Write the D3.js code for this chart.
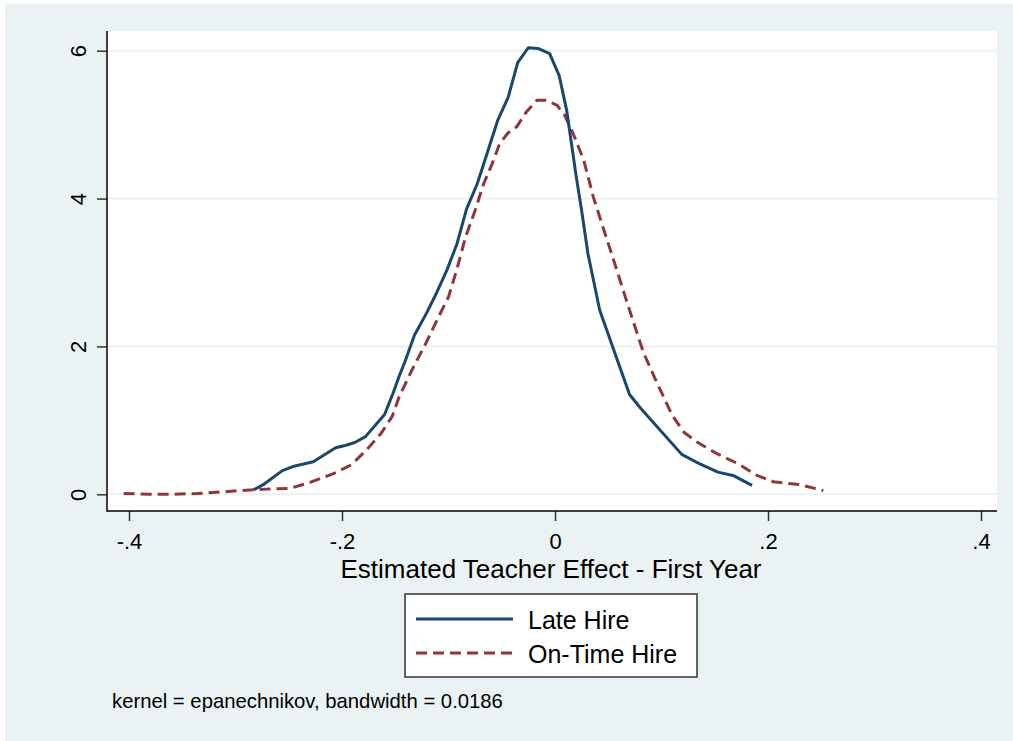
<!DOCTYPE html>
<html>
<head>
<meta charset="utf-8">
<script src="https://cdn.jsdelivr.net/npm/d3@7/dist/d3.min.js"></script>
<style>
  html, body { margin: 0; padding: 0; background: #ffffff; }
  svg { display: block; font-family: "Liberation Sans", Arial, sans-serif; }
</style>
</head>
<body>
<svg id="chart" width="1013" height="741"></svg>
<script>
// ---- data ----
const lateX = [-0.283,-0.274,-0.256,-0.245,-0.227,-0.206,-0.197,-0.188,-0.178,-0.160,-0.152,-0.146,-0.141,-0.132,-0.121,-0.111,-0.101,-0.092,-0.083,-0.073,-0.064,-0.054,-0.044,-0.035,-0.025,-0.016,-0.005,0.004,0.011,0.020,0.025,0.031,0.042,0.070,0.080,0.119,0.136,0.153,0.168,0.185];
const lateY = [0.06,0.13,0.32,0.38,0.44,0.63,0.66,0.70,0.78,1.08,1.37,1.61,1.79,2.15,2.44,2.73,3.05,3.39,3.86,4.20,4.60,5.05,5.37,5.84,6.04,6.03,5.96,5.66,5.19,4.29,3.84,3.25,2.49,1.35,1.17,0.54,0.41,0.30,0.25,0.12];

const onTimeX = [-0.405,-0.380,-0.362,-0.336,-0.315,-0.296,-0.271,-0.249,-0.230,-0.208,-0.191,-0.177,-0.163,-0.153,-0.146,-0.133,-0.122,-0.110,-0.100,-0.092,-0.084,-0.075,-0.067,-0.059,-0.052,-0.044,-0.036,-0.027,-0.017,-0.008,0.002,0.009,0.017,0.027,0.036,0.044,0.055,0.066,0.075,0.083,0.096,0.110,0.121,0.133,0.152,0.171,0.189,0.205,0.230,0.252];
const onTimeY = [0.01,0.00,0.00,0.01,0.03,0.05,0.07,0.08,0.16,0.28,0.40,0.60,0.83,1.05,1.33,1.72,2.02,2.38,2.67,3.05,3.48,3.84,4.20,4.47,4.74,4.89,4.97,5.17,5.33,5.33,5.26,5.13,4.88,4.52,4.02,3.66,3.17,2.67,2.27,1.92,1.50,1.07,0.84,0.71,0.55,0.42,0.26,0.17,0.13,0.05];

const xTicks = [-0.4, -0.2, 0, 0.2, 0.4];
const xTickLabels = ["-.4", "-.2", "0", ".2", ".4"];
const yTicks = [0, 2, 4, 6];
const yTickLabels = ["0", "2", "4", "6"];

const seriesNames = ["Late Hire", "On-Time Hire"];
const xTitle = "Estimated Teacher Effect - First Year";
const noteText = "kernel = epanechnikov, bandwidth = 0.0186";

// ---- layout ----
const BG = "#eaf2f3";
const BLUE = "#1a476f";
const RED = "#90353b";
const plot = { left: 107, right: 997, top: 31, bottom: 511 };

const svg = d3.select("#chart");

svg.append("rect").attr("x", 5).attr("y", 4).attr("width", 1008).attr("height", 737).attr("fill", BG);
svg.append("rect").attr("x", plot.left).attr("y", plot.top)
   .attr("width", plot.right - plot.left).attr("height", plot.bottom - plot.top).attr("fill", "#ffffff");

const x = d3.scaleLinear().domain([-0.4, 0.4]).range([129, 981]);
const y = d3.scaleLinear().domain([0, 6]).range([494.3, 50.7]);

// gridlines
svg.append("g").selectAll("line").data(yTicks).join("line")
  .attr("x1", plot.left).attr("x2", plot.right)
  .attr("y1", d => y(d)).attr("y2", d => y(d))
  .attr("stroke", BG).attr("stroke-width", 2);

// curves
const line = d3.line().x(d => x(d[0])).y(d => y(d[1]));
const lateData = lateX.map((v, i) => [v, lateY[i]]);
const onTimeData = onTimeX.map((v, i) => [v, onTimeY[i]]);

svg.append("path").datum(onTimeData).attr("d", line)
  .attr("fill", "none").attr("stroke", RED).attr("stroke-width", 3)
  .attr("stroke-dasharray", "11,6").attr("stroke-linejoin", "round");
svg.append("path").datum(lateData).attr("d", line)
  .attr("fill", "none").attr("stroke", BLUE).attr("stroke-width", 3)
  .attr("stroke-linejoin", "round");

// axes
const yAxis = d3.axisLeft(y).tickValues(yTicks).tickSize(10)
  .tickFormat((d, i) => yTickLabels[i]);
const gy = svg.append("g").attr("transform", `translate(${plot.left},0)`).call(yAxis);
gy.select(".domain").remove();
gy.selectAll(".tick line").attr("stroke", "#333").attr("stroke-width", 1.5);
gy.selectAll(".tick text")
  .attr("x", null).attr("dy", null)
  .attr("transform", "translate(-21,0) rotate(-90)")
  .attr("y", 0)
  .attr("text-anchor", "middle")
  .attr("fill", "#000")
  .style("font-size", "22px");

const xAxis = d3.axisBottom(x).tickValues(xTicks).tickSize(10)
  .tickFormat((d, i) => xTickLabels[i]);
const gx = svg.append("g").attr("transform", `translate(0,${plot.bottom})`).call(xAxis);
gx.select(".domain").remove();
gx.selectAll(".tick line").attr("stroke", "#333").attr("stroke-width", 1.5);
gx.selectAll(".tick text")
  .attr("y", 38).attr("dy", null)
  .attr("fill", "#000")
  .style("font-size", "22px");

// axis lines
svg.append("line").attr("x1", plot.left).attr("x2", plot.left)
  .attr("y1", plot.top).attr("y2", plot.bottom + 0.75)
  .attr("stroke", "#000").attr("stroke-width", 1.5);
svg.append("line").attr("x1", plot.left).attr("x2", plot.right)
  .attr("y1", plot.bottom).attr("y2", plot.bottom)
  .attr("stroke", "#000").attr("stroke-width", 1.5);

// axis title
svg.append("text").attr("x", 551).attr("y", 578)
  .attr("text-anchor", "middle").style("font-size", "26px").attr("fill", "#000")
  .text(xTitle);

// legend
const lg = svg.append("g");
lg.append("rect").attr("x", 405).attr("y", 594).attr("width", 292).attr("height", 83)
  .attr("fill", "#ffffff").attr("stroke", "#333").attr("stroke-width", 1.5);
const legendItems = [
  { name: seriesNames[0], color: BLUE, dash: null, y: 619 },
  { name: seriesNames[1], color: RED, dash: "11,6", y: 653 }
];
legendItems.forEach(it => {
  lg.append("line").attr("x1", 416).attr("x2", 513).attr("y1", it.y).attr("y2", it.y)
    .attr("stroke", it.color).attr("stroke-width", 3)
    .attr("stroke-dasharray", it.dash);
  lg.append("text").attr("x", 528).attr("y", it.y + 9.5)
    .style("font-size", "25px").attr("fill", "#000").text(it.name);
});

// note
svg.append("text").attr("x", 112).attr("y", 708)
  .style("font-size", "20.3px").attr("fill", "#000").text(noteText);
</script>
</body>
</html>
